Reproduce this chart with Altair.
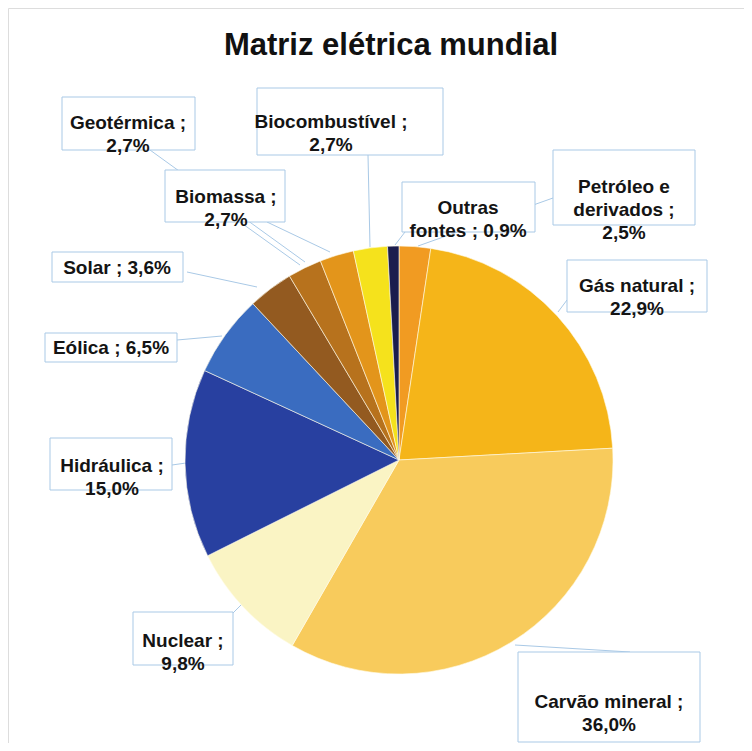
import altair as alt
import pandas as pd

# ---- data ----
categories = ["Petróleo e derivados", "Gás natural", "Carvão mineral", "Nuclear",
              "Hidráulica", "Eólica", "Solar", "Biomassa", "Geotérmica",
              "Biocombustível", "Outras fontes"]
values = [2.5, 22.9, 36.0, 9.8, 15.0, 6.5, 3.6, 2.7, 2.7, 2.7, 0.9]
label_texts = ["Petróleo e\nderivados ;\n2,5%", "Gás natural  ;\n22,9%",
               "Carvão mineral  ;\n36,0%", "Nuclear ;\n9,8%", "Hidráulica ;\n15,0%",
               "Eólica ; 6,5%", "Solar  ; 3,6%", "Biomassa ;\n2,7%",
               "Geotérmica ;\n2,7%", "Biocombustível ;\n2,7%", "Outras\nfontes ; 0,9%"]

# ---- styles ----
colors = ["#F19B22", "#F5B519", "#F8CB5C", "#FAF4C4", "#2840A0", "#3A6CC0",
          "#935A20", "#B7721D", "#E3951B", "#F5E21C", "#1B1D4E"]

# ---- layout (page pixel coordinates) ----
box_x0 = [553, 567, 518, 133, 50, 45, 52, 165, 62, 257, 402]
box_x1 = [695, 707, 700, 233, 172, 177, 183, 285, 195, 443, 535]
box_y0 = [150, 260, 652, 612, 438, 333, 252, 170, 97, 88, 182]
box_y1 = [225, 312, 742, 665, 490, 362, 282, 222, 150, 155, 232]
text_x = [624, 637, 609, 183, 112, 111, 117, 226, 128, 331, 468]
text_y = [187, 286, 702, 641, 466, 348, 268, 197, 123, 122, 208]

lead_x0 = [553, 567, 515, 233, 172, 177, 187, 240, 267, 150, 368, 405]
lead_y0 = [198, 300, 645, 613, 465, 340, 272, 222, 222, 150, 155, 232]
lead_x1 = [418, 558, 630, 242, 186, 222, 257, 300, 330, 305, 370, 395]
lead_y1 = [246, 312, 652, 604, 463, 336, 287, 265, 252, 262, 247, 245]

CX, CY, R = 399, 460, 214
W, H = 736, 735

pie_df = pd.DataFrame({"cat": categories, "val": values, "idx": list(range(len(values)))})
box_df = pd.DataFrame({"cat": categories, "x0": box_x0, "x1": box_x1, "y0": box_y0,
                       "y1": box_y1, "tx": text_x, "ty": text_y, "label": label_texts})
lead_df = pd.DataFrame({"x0": lead_x0, "y0": lead_y0, "x1": lead_x1, "y1": lead_y1})

xs = alt.Scale(domain=[8, 8 + W], range=[0, W])
ys = alt.Scale(domain=[8, 8 + H], range=[0, H])

pie = alt.Chart(pie_df).mark_arc(radius=R, stroke="#FFFBEA", strokeWidth=0.6).encode(
    theta=alt.Theta("val:Q", stack=True),
    color=alt.Color("cat:N", scale=alt.Scale(domain=categories, range=colors), legend=None),
    order=alt.Order("idx:Q"),
    x=alt.value(CX - 8),
    y=alt.value(CY - 8),
)

leads = alt.Chart(lead_df).mark_rule(color="#A9C9E6", strokeWidth=1).encode(
    x=alt.X("x0:Q", scale=xs, axis=None),
    y=alt.Y("y0:Q", scale=ys, axis=None),
    x2="x1:Q",
    y2="y1:Q",
)

boxes = alt.Chart(box_df).mark_rect(fill="#FFFFFF", stroke="#A9C9E6", strokeWidth=1).encode(
    x=alt.X("x0:Q", scale=xs, axis=None),
    y=alt.Y("y0:Q", scale=ys, axis=None),
    x2="x1:Q",
    y2="y1:Q",
)

texts = alt.Chart(box_df).mark_text(
    font="Liberation Sans", fontWeight="bold", fontSize=19, lineBreak="\n",
    lineHeight=23, align="center", baseline="middle", color="#141414"
).encode(
    x=alt.X("tx:Q", scale=xs, axis=None),
    y=alt.Y("ty:Q", scale=ys, axis=None),
    text="label:N",
)

title_df = pd.DataFrame({"t": ["Matriz elétrica mundial"], "x": [391], "y": [46]})
title = alt.Chart(title_df).mark_text(
    font="Liberation Sans", fontWeight="bold", fontSize=31, align="center",
    baseline="middle", color="#111111"
).encode(
    x=alt.X("x:Q", scale=xs, axis=None),
    y=alt.Y("y:Q", scale=ys, axis=None),
    text="t:N",
)

chart = alt.layer(leads, pie, boxes, texts, title).properties(
    width=W, height=H, padding=0, autosize="none"
).configure_view(stroke=None).configure(background="#FFFFFF")

chart.save("out.html", embed_options={"renderer": "svg", "actions": False})
